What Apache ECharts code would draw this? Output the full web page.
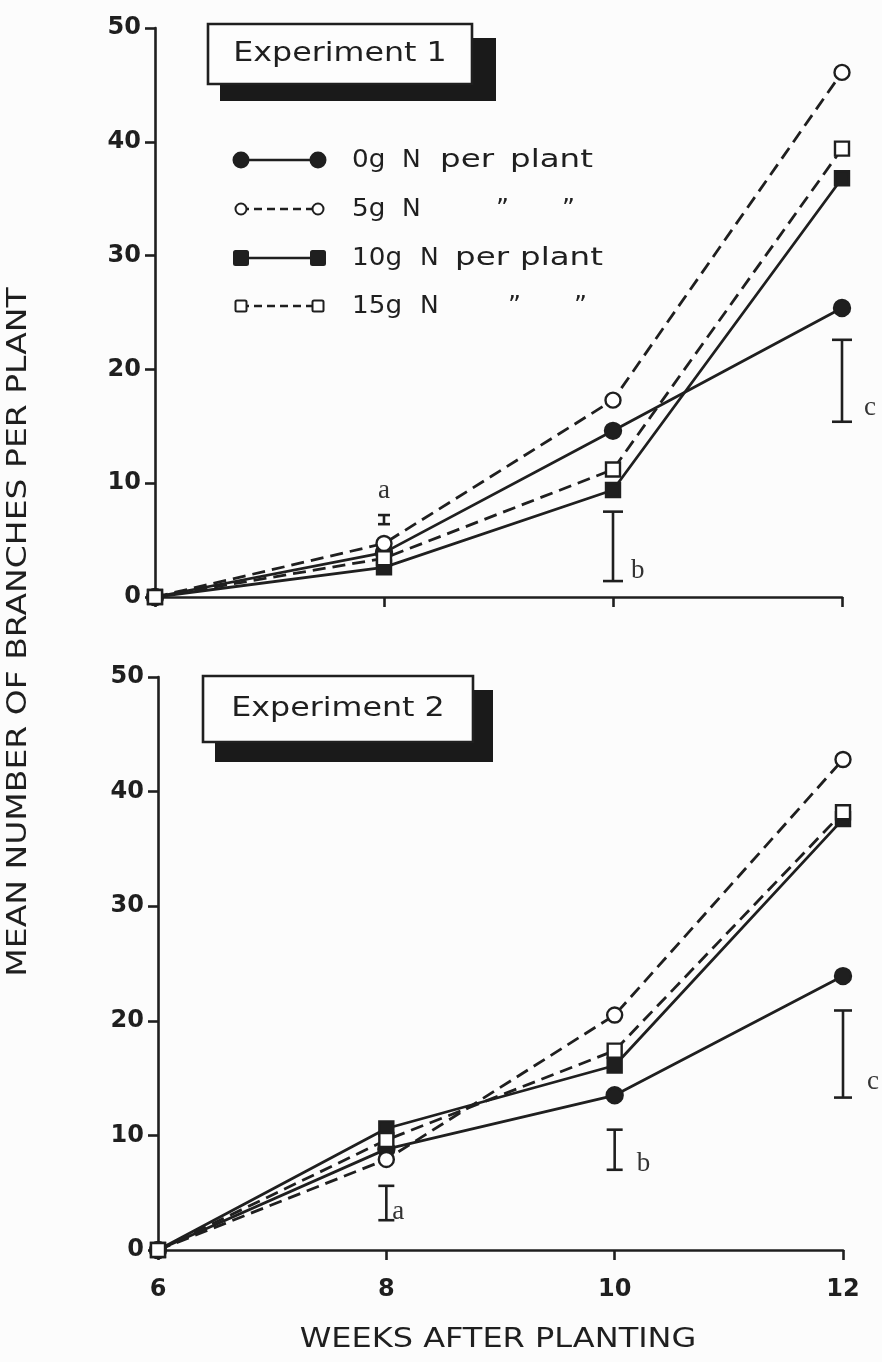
<!DOCTYPE html>
<html>
<head>
<meta charset="utf-8">
<script src="https://cdn.jsdelivr.net/npm/echarts@6/dist/echarts.min.js"></script>
<style>
html,body{margin:0;padding:0;background:#fcfcfc;}
#chart{width:882px;height:1362px;}
</style>
</head>
<body>
<div id="chart"></div>
<script>
// ---- data ----
const weeks = [6, 8, 10, 12];
const xTicks = [6, 8, 10, 12];
const yTicks = [0, 10, 20, 30, 40, 50];
const seriesNames = ['0g N per plant', '5g N', '10g N per plant', '15g N'];

const exp1_0g  = [0, 3.9, 14.6, 25.4];
const exp1_5g  = [0, 4.7, 17.3, 46.1];
const exp1_10g = [0, 2.6, 9.4, 36.8];
const exp1_15g = [0, 3.4, 11.2, 39.4];

const exp2_0g  = [0, 8.8, 13.5, 23.9];
const exp2_5g  = [0, 7.9, 20.5, 42.8];
const exp2_10g = [0, 10.6, 16.1, 37.6];
const exp2_15g = [0, 9.6, 17.4, 38.2];

const lsdWeeks = [8, 10, 12];
const lsdLetters = ['a', 'b', 'c'];
const exp1_lsdLow  = [6.4, 1.4, 15.4];
const exp1_lsdHigh = [7.2, 7.5, 22.6];
const exp2_lsdLow  = [2.6, 7.0, 13.3];
const exp2_lsdHigh = [5.6, 10.5, 20.9];

const panelTitles = ['Experiment 1', 'Experiment 2'];
const xAxisTitle = 'WEEKS AFTER PLANTING';
const yAxisTitle = 'MEAN NUMBER OF BRANCHES PER PLANT';

// ---- styles ----
const INK = '#1f1f1f';
const FONT = 'DejaVu Sans';
const seriesStyle = [
  {symbol: 'circle', size: 16, fill: INK, dash: 'solid'},
  {symbol: 'circle', size: 15, fill: '#fff', dash: [13, 7]},
  {symbol: 'rect',   size: 14, fill: INK, dash: 'solid'},
  {symbol: 'rect',   size: 14, fill: '#fff', dash: [13, 7]}
];
// label placement for LSD letters, per panel [dx, dy, align]
const lsdLabelPos = [
  {a: [0, -24, 'center'], b: [18, -10, 'left'], c: [22, -14, 'left']},
  {a: [6, -8, 'left'],   b: [22, -6, 'left'],  c: [24, -16, 'left']}
];
const lsdCap = [{a: 12, b: 20, c: 20}, {a: 16, b: 16, c: 18}];

const chart = echarts.init(document.getElementById('chart'), null, {renderer: 'canvas'});

function makeXAxis(gridIndex, showLabels) {
  return {
    type: 'value', gridIndex, min: xTicks[0], max: xTicks[xTicks.length - 1], interval: 2,
    axisLine: {show: true, onZero: false, lineStyle: {color: INK, width: 2.6}},
    axisTick: {show: true, length: 10, lineStyle: {color: INK, width: 2.6}},
    axisLabel: {show: showLabels, fontFamily: FONT, fontWeight: 'bold', fontSize: 24, color: INK, margin: 28},
    splitLine: {show: false}
  };
}
function makeYAxis(gridIndex) {
  return {
    type: 'value', gridIndex, min: yTicks[0], max: yTicks[yTicks.length - 1], interval: 10,
    axisLine: {show: true, lineStyle: {color: INK, width: 2.6}},
    axisTick: {show: true, length: 10, lineStyle: {color: INK, width: 2.6}},
    axisLabel: {show: true, fontFamily: FONT, fontWeight: 'bold', fontSize: 24, color: INK, margin: 14},
    splitLine: {show: false}
  };
}

const expData = [
  [exp1_0g, exp1_5g, exp1_10g, exp1_15g],
  [exp2_0g, exp2_5g, exp2_10g, exp2_15g]
];
const lsdData = [
  [exp1_lsdLow, exp1_lsdHigh],
  [exp2_lsdLow, exp2_lsdHigh]
];

const series = [];
expData.forEach((group, gi) => {
  group.forEach((vals, si) => {
    const st = seriesStyle[si];
    series.push({
      type: 'line', name: seriesNames[si], xAxisIndex: gi, yAxisIndex: gi,
      data: weeks.map((w, i) => [w, vals[i]]),
      symbol: st.symbol, symbolSize: st.size, showSymbol: true,
      lineStyle: {color: INK, width: 2.8, type: st.dash},
      itemStyle: {color: st.fill, borderColor: INK, borderWidth: 2.4},
      z: 3 + si, animation: false
    });
  });
  const [lo, hi] = lsdData[gi];
  series.push({
    type: 'custom', xAxisIndex: gi, yAxisIndex: gi, animation: false,
    data: lsdWeeks.map((w, i) => [w, lo[i], hi[i]]),
    renderItem: function (params, api) {
      const x = api.value(0);
      const pLo = api.coord([x, api.value(1)]);
      const pHi = api.coord([x, api.value(2)]);
      const letter = lsdLetters[params.dataIndex];
      const cw = lsdCap[gi][letter] / 2;
      const pos = lsdLabelPos[gi][letter];
      const ls = {stroke: INK, lineWidth: 2.6};
      const anchorTop = (letter === 'a' && gi === 0);
      return {
        type: 'group',
        children: [
          {type: 'line', shape: {x1: pLo[0], y1: pLo[1], x2: pHi[0], y2: pHi[1]}, style: ls},
          {type: 'line', shape: {x1: pLo[0] - cw, y1: pLo[1], x2: pLo[0] + cw, y2: pLo[1]}, style: ls},
          {type: 'line', shape: {x1: pHi[0] - cw, y1: pHi[1], x2: pHi[0] + cw, y2: pHi[1]}, style: ls},
          {type: 'text', x: (anchorTop ? pHi[0] : pLo[0]) + pos[0],
            y: (anchorTop ? pHi[1] : pLo[1]) + pos[1],
            style: {text: letter, fill: '#333', font: '27px "Liberation Serif"', align: pos[2], verticalAlign: 'middle'}}
        ]
      };
    }
  });
});

// ---- legend (decoration) ----
// each part: [text, x, horizontal stretch]
const legendRows = [
  {y: 160, parts: [['0g', 352, 1.05], ['N', 402, 1], ['per', 440, 1.3], ['plant', 510, 1.3]]},
  {y: 209, parts: [['5g', 352, 1.05], ['N', 402, 1], ['\u201D', 496, 1], ['\u201D', 562, 1]]},
  {y: 258, parts: [['10g', 352, 1.05], ['N', 420, 1], ['per', 455, 1.3], ['plant', 520, 1.3]]},
  {y: 306, parts: [['15g', 352, 1.05], ['N', 420, 1], ['\u201D', 508, 1], ['\u201D', 574, 1]]}
];
const graphics = [];
legendRows.forEach((row, i) => {
  const st = seriesStyle[i];
  const x1 = 241, x2 = 318;
  graphics.push({type: 'line', shape: {x1: x1, y1: row.y, x2: x2, y2: row.y},
    style: {stroke: INK, lineWidth: 2.6, lineDash: st.dash === 'solid' ? null : [8, 5]}});
  [x1, x2].forEach(cx => {
    if (st.symbol === 'circle') {
      graphics.push({type: 'circle', shape: {cx: cx, cy: row.y, r: st.fill === INK ? 7.5 : 5.5},
        style: {fill: st.fill, stroke: INK, lineWidth: 2}});
    } else {
      const s = st.fill === INK ? 14 : 11;
      graphics.push({type: 'rect', shape: {x: cx - s / 2, y: row.y - s / 2, width: s, height: s, r: 1.5},
        style: {fill: st.fill, stroke: INK, lineWidth: 2}});
    }
  });
  row.parts.forEach(p => {
    graphics.push({type: 'text', x: p[1], y: row.y, scaleX: p[2],
      style: {text: p[0], fill: INK, font: '500 25px "DejaVu Sans"', verticalAlign: 'middle'}});
  });
});

// experiment boxes
const boxes = [
  {x: 208, y: 24, w: 264, h: 60, sx: 220, sy: 38, sw: 276, sh: 63},
  {x: 203, y: 676, w: 270, h: 66, sx: 215, sy: 690, sw: 278, sh: 72}
];
boxes.forEach((b, i) => {
  graphics.push({type: 'rect', shape: {x: b.sx, y: b.sy, width: b.sw, height: b.sh}, style: {fill: '#1a1a1a'}, z: 10});
  graphics.push({type: 'rect', shape: {x: b.x, y: b.y, width: b.w, height: b.h}, style: {fill: '#fdfdfd', stroke: INK, lineWidth: 2.6}, z: 11});
  graphics.push({type: 'text', x: b.x + b.w / 2, y: b.y + b.h / 2, z: 12, scaleX: 1.22,
    style: {text: panelTitles[i], fill: INK, font: '26px "DejaVu Sans"', align: 'center', verticalAlign: 'middle'}});
});

// axis titles
graphics.push({type: 'text', x: 498, y: 1340, scaleX: 1.23,
  style: {text: xAxisTitle, fill: INK, font: '26px "DejaVu Sans"', align: 'center', verticalAlign: 'middle'}});
graphics.push({type: 'text', x: 19, y: 632, rotation: Math.PI / 2, scaleX: 1.27,
  style: {text: yAxisTitle, fill: INK, font: '26px "DejaVu Sans"', align: 'center', verticalAlign: 'middle'}});

chart.setOption({
  backgroundColor: '#fcfcfc',
  animation: false,
  grid: [
    {left: 155, right: 40, top: 28, height: 569},
    {left: 158, right: 39, top: 677, height: 573}
  ],
  xAxis: [makeXAxis(0, false), makeXAxis(1, true)],
  yAxis: [makeYAxis(0), makeYAxis(1)],
  series: series,
  graphic: graphics
});
</script>
</body>
</html>
